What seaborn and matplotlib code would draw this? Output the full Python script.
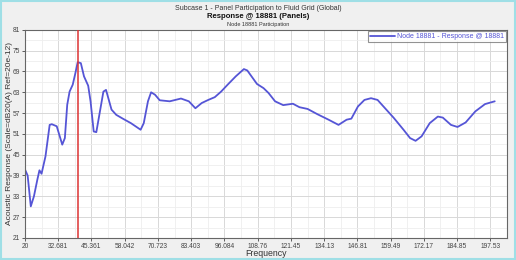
import matplotlib
matplotlib.use("Agg")
import matplotlib.pyplot as plt
import seaborn as sns
import pandas as pd
from matplotlib.patches import Rectangle
from matplotlib.ticker import MultipleLocator

freq = [20, 21, 22.2, 23.4, 24.7, 25.5, 26.3, 27.8, 29.4, 30.2, 32.1, 34.2, 35.2, 36.1, 37.0,
        38.2, 39.2, 40.1, 41.3, 42.5, 44.1, 45.0, 46.2, 47.2, 48.7, 49.9, 50.9, 53.0, 54.8,
        57.3, 60.4, 64.1, 65.3, 66.9, 68.1, 69.6, 71.4, 75.2, 79.5, 82.5, 85.0, 87.4, 89.9,
        92.4, 94.8, 97.3, 100.4, 103.5, 104.8, 106.6, 108.5, 111.0, 112.9, 115.4, 118.5,
        122.2, 124.7, 127.8, 131.5, 135.8, 139.6, 142.7, 144.5, 147.0, 149.5, 152.0, 154.5,
        157.0, 160.7, 164.4, 166.9, 169.0, 171.3, 174.4, 177.5, 179.4, 182.5, 185.0, 188.1,
        191.8, 195.5, 199.2]
response = [40.7, 39.0, 30.1, 33.0, 37.8, 40.5, 39.5, 44.5, 53.6, 53.8, 53.2, 47.9, 49.8, 59.4,
            63.2, 65.2, 68.5, 71.7, 71.4, 67.6, 64.9, 60.4, 51.7, 51.5, 58.0, 63.2, 63.7, 58.0,
            56.5, 55.4, 54.1, 52.2, 54.1, 60.4, 63.0, 62.3, 60.7, 60.4, 61.2, 60.4, 58.4, 59.9,
            60.8, 61.6, 63.2, 65.2, 67.6, 69.7, 69.3, 67.4, 65.4, 64.2, 62.8, 60.4, 59.3, 59.7,
            58.7, 58.2, 56.7, 55.1, 53.6, 55.1, 55.4, 58.9, 60.8, 61.3, 60.8, 58.7, 55.6, 52.2,
            49.8, 49.0, 50.3, 54.1, 56.0, 55.7, 53.6, 53.0, 54.3, 57.5, 59.6, 60.4]
marker_freq = 40.1

xticks = [20, 32.681, 45.361, 58.042, 70.723, 83.403, 96.084, 108.76, 121.45, 134.13,
          146.81, 159.49, 172.17, 184.85, 197.53]
xtick_labels = ["20", "32.681", "45.361", "58.042", "70.723", "83.403", "96.084", "108.76",
                "121.45", "134.13", "146.81", "159.49", "172.17", "184.85", "197.53"]
yticks = [21, 27, 33, 39, 45, 51, 57, 63, 69, 75, 81]

series_name = "Node 18881 - Response @ 18881"
df = pd.DataFrame({"Frequency": freq, "Response": response, "Series": series_name})

sns.set_style("white")
plt.rcParams['font.family'] = ['Liberation Sans', 'DejaVu Sans']

fig = plt.figure(figsize=(5.16, 2.6), dpi=100)
fig.patch.set_facecolor("#f0f0f0")
fig.patches.append(Rectangle((0.002, 0.004), 0.996, 0.992, transform=fig.transFigure,
                             fill=False, edgecolor="#9fdfe6", linewidth=1.5, zorder=10))

ax = fig.add_axes([0.0485, 0.085, 0.934, 0.80])
ax.set_facecolor("white")

sns.lineplot(data=df, x="Frequency", y="Response", hue="Series", palette=["#5555d6"],
             linewidth=1.3, ax=ax, legend=True)
ax.axvline(marker_freq, color="#dd3333", linewidth=1.1, zorder=3)

ax.set_xlim(20, 199.5)
ax.set_ylim(21, 81)
ax.set_xticks(xticks)
ax.set_xticklabels(xtick_labels)
ax.set_yticks(yticks)
ax.set_xticks([x + 12.681 / 2 for x in xticks], minor=True)
ax.yaxis.set_minor_locator(MultipleLocator(3))
ax.grid(which="major", color="#d8d8d8", linewidth=0.7)
ax.grid(which="minor", color="#eeeeee", linewidth=0.6)
ax.set_axisbelow(True)
ax.tick_params(axis="both", which="major", labelsize=4.8, length=2.5, width=0.6,
               direction="out", colors="#444444", pad=1, left=True, bottom=True)
ax.tick_params(which="minor", length=0)
for sp in ax.spines.values():
    sp.set_color("#666666")
    sp.set_linewidth(0.8)

ax.set_xlabel("Frequency", fontsize=6.3, color="#333333")
ax.xaxis.set_label_coords(0.5, -0.055)
ax.set_ylabel("Acoustic Response (Scale=dB20(A) Ref=20e-12)", fontsize=6, color="#333333")
ax.yaxis.set_label_coords(-0.025, 0.5)

leg = ax.legend(loc="upper right", fontsize=5, frameon=True, fancybox=False,
                borderpad=0.3, handlelength=3.6, handletextpad=0.2, borderaxespad=0.15)
leg.get_frame().set_edgecolor("#777777")
leg.get_frame().set_linewidth(0.8)
for t in leg.get_texts():
    t.set_color("#5555d6")

fig.text(0.5, 0.968, "Subcase 1 - Panel Participation to Fluid Grid (Global)", ha="center",
         va="center", fontsize=5.0, color="#333333")
fig.text(0.5, 0.936, "Response @ 18881 (Panels)", ha="center", va="center", fontsize=5.6,
         fontweight="bold", color="#111111")
fig.text(0.5, 0.907, "Node 18881 Participation", ha="center", va="center", fontsize=4.0,
         color="#333333")

fig.savefig("out.png", dpi=100, facecolor=fig.get_facecolor())
